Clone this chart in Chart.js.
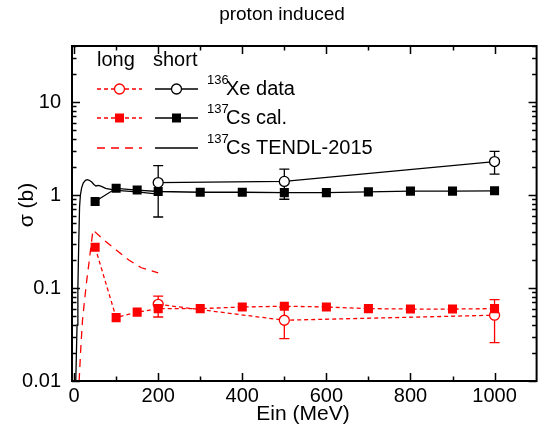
<!DOCTYPE html>
<html>
<head>
<meta charset="utf-8">
<script src="https://cdn.jsdelivr.net/npm/chart.js@4.4.1/dist/chart.umd.min.js"></script>
<style>
  html, body { margin: 0; padding: 0; background: #fff; }
</style>
</head>
<body>
<canvas id="chart" width="543" height="432"></canvas>
<script>
// proton induced - 136Xe data vs 137Cs calc / TENDL-2015
const FONT = "'Liberation Sans', Arial, sans-serif";
const RED = "#ff0000";
const BLACK = "#000000";

// calculated 137Cs, long and short lived
const calEnergy = [50, 100, 150, 200, 300, 400, 500, 600, 700, 800, 900, 1000];
const calShort = [0.85, 1.18, 1.13, 1.09, 1.07, 1.07, 1.06, 1.06, 1.08, 1.10, 1.10, 1.11];
const calLong = [0.274, 0.048, 0.055, 0.060, 0.060, 0.0625, 0.0637, 0.0625, 0.060, 0.0594, 0.0594, 0.060];

// measured 136Xe with error bars
const xeEnergy = [200, 500, 1000];
const xeShort = [1.36, 1.40, 2.29];
const xeShortLow = [0.58, 0.90, 1.68];
const xeShortHigh = [2.07, 1.90, 2.94];
const xeLong = [0.0668, 0.045, 0.051];
const xeLongLow = [0.0488, 0.0285, 0.0258];
const xeLongHigh = [0.0816, 0.062, 0.075];

// TENDL-2015 curves
const tendlShortE = [4, 7, 9, 11, 13, 15, 18, 22, 27, 31, 36, 42, 47, 52, 58, 65, 75, 100, 150, 200];
const tendlShortV = [0.01, 0.04, 0.1, 0.3, 0.75, 1.0, 1.2, 1.35, 1.44, 1.46, 1.44, 1.38, 1.3, 1.25, 1.27, 1.24, 1.18, 1.12, 1.08, 1.02];
const tendlLongE = [12, 16, 20, 25, 30, 35, 40, 45, 70, 100, 130, 160, 200];
const tendlLongV = [0.01, 0.023, 0.045, 0.075, 0.12, 0.18, 0.28, 0.42, 0.33, 0.256, 0.2, 0.165, 0.145];

// axes
const xTicks = [0, 100, 200, 300, 400, 500, 600, 700, 800, 900, 1000];
const xTickLabels = ["0", "", "200", "", "400", "", "600", "", "800", "", "1000"];
const yTicks = [0.01, 0.1, 1, 10];
const yTickLabels = ["0.01", "0.1", "1", "10"];

function pts(xs, ys) {
  return xs.map((x, i) => ({ x, y: ys[i] }));
}

function drawMarker(ctx, type, x, y, color) {
  ctx.save();
  ctx.lineWidth = 1.3;
  ctx.setLineDash([]);
  if (type === "square") {
    ctx.fillStyle = color;
    ctx.fillRect(x - 4.5, y - 4.5, 9, 9);
  } else {
    ctx.beginPath();
    ctx.arc(x, y, 5, 0, Math.PI * 2);
    ctx.fillStyle = "#fff";
    ctx.fill();
    ctx.strokeStyle = color;
    ctx.stroke();
  }
  ctx.restore();
}

function sampleLine(ctx, x1, x2, y, color, dash) {
  ctx.save();
  ctx.strokeStyle = color;
  ctx.lineWidth = 1.3;
  ctx.setLineDash(dash);
  ctx.beginPath();
  ctx.moveTo(x1, y);
  ctx.lineTo(x2, y);
  ctx.stroke();
  ctx.restore();
}

// error bars below the markers
const errorBars = {
  id: "errorBars",
  beforeDatasetsDraw(chart) {
    const { ctx, scales: { x, y } } = chart;
    const sets = [
      { lo: xeShortLow, hi: xeShortHigh, color: BLACK },
      { lo: xeLongLow, hi: xeLongHigh, color: RED }
    ];
    ctx.save();
    ctx.lineWidth = 1.3;
    sets.forEach((s) => {
      ctx.strokeStyle = s.color;
      xeEnergy.forEach((e, i) => {
        const px = x.getPixelForValue(e);
        const y1 = y.getPixelForValue(s.lo[i]);
        const y2 = y.getPixelForValue(s.hi[i]);
        ctx.beginPath();
        ctx.moveTo(px, y1); ctx.lineTo(px, y2);
        ctx.moveTo(px - 5, y1); ctx.lineTo(px + 5, y1);
        ctx.moveTo(px - 5, y2); ctx.lineTo(px + 5, y2);
        ctx.stroke();
      });
    });
    ctx.restore();
  }
};

// frame, inward ticks, titles and legend
const decorations = {
  id: "decorations",
  afterDraw(chart) {
    const { ctx, chartArea: a, scales: { x, y } } = chart;
    ctx.save();
    ctx.strokeStyle = BLACK;
    ctx.lineWidth = 1.5;
    ctx.beginPath();
    xTicks.forEach((v, i) => {
      const px = Math.round(x.getPixelForValue(v)) + 0.5;
      const len = xTickLabels[i] ? 8 : 4.5;
      ctx.moveTo(px, a.bottom); ctx.lineTo(px, a.bottom - len);
      ctx.moveTo(px, a.top); ctx.lineTo(px, a.top + len);
    });
    for (let d = 0.01; d < 100; d *= 10) {
      for (let k = 1; k <= 9; k++) {
        const v = k * d;
        if (v < 0.0099 || v > 40.01) continue;
        const py = Math.round(y.getPixelForValue(v)) + 0.5;
        const len = k === 1 ? 8 : 4.5;
        ctx.moveTo(a.left, py); ctx.lineTo(a.left + len, py);
        ctx.moveTo(a.right, py); ctx.lineTo(a.right - len, py);
      }
    }
    ctx.stroke();
    ctx.lineWidth = 2;
    ctx.strokeRect(a.left, a.top, a.right - a.left, a.bottom - a.top);

    ctx.fillStyle = BLACK;
    ctx.textAlign = "center";
    ctx.textBaseline = "middle";
    ctx.font = "19px " + FONT;
    ctx.fillText("proton induced", 282, 15);
    ctx.font = "21px " + FONT;
    ctx.fillText("Ein (MeV)", 303, 414);
    ctx.save();
    ctx.translate(27, 205);
    ctx.rotate(-Math.PI / 2);
    ctx.fillText("\u03c3 (b)", 0, 0);
    ctx.restore();

    // legend
    ctx.textAlign = "left";
    ctx.font = "20px " + FONT;
    ctx.fillText("long", 97, 60);
    ctx.fillText("short", 153, 60);
    const rows = [
      { y: 89, marker: "circle", dashRed: [4, 3], iso: "136", name: "Xe data" },
      { y: 118, marker: "square", dashRed: [4, 3], iso: "137", name: "Cs cal." },
      { y: 148, marker: null, dashRed: [8, 6], iso: "137", name: "Cs TENDL-2015" }
    ];
    rows.forEach((r) => {
      sampleLine(ctx, 97, 142, r.y, RED, r.dashRed);
      sampleLine(ctx, 155, 198, r.y, BLACK, []);
      if (r.marker) {
        drawMarker(ctx, r.marker, 119.5, r.y, RED);
        drawMarker(ctx, r.marker, 176.5, r.y, BLACK);
      }
      ctx.fillStyle = BLACK;
      ctx.font = "13px " + FONT;
      ctx.fillText(r.iso, 207, r.y - 9);
      ctx.font = "20px " + FONT;
      ctx.fillText(r.name, 226, r.y);
    });
    ctx.restore();
  }
};

const ctx = document.getElementById("chart");

new Chart(ctx, {
  type: "scatter",
  data: {
    datasets: [
      {
        label: "137Cs cal. short",
        data: pts(calEnergy, calShort),
        showLine: true,
        borderColor: BLACK,
        borderWidth: 1.3,
        pointStyle: "rect",
        pointRadius: 6.4,
        pointBackgroundColor: BLACK,
        pointBorderWidth: 0,
        order: 1
      },
      {
        label: "137Cs cal. long",
        data: pts(calEnergy, calLong),
        showLine: true,
        borderColor: RED,
        borderWidth: 1.3,
        borderDash: [4, 3],
        pointStyle: "rect",
        pointRadius: 6.4,
        pointBackgroundColor: RED,
        pointBorderWidth: 0,
        order: 2
      },
      {
        label: "136Xe data short",
        data: pts(xeEnergy, xeShort),
        showLine: true,
        borderColor: BLACK,
        borderWidth: 1.3,
        pointStyle: "circle",
        pointRadius: 5,
        pointBackgroundColor: "#fff",
        pointBorderColor: BLACK,
        pointBorderWidth: 1.3,
        order: 3
      },
      {
        label: "136Xe data long",
        data: pts(xeEnergy, xeLong),
        showLine: true,
        borderColor: RED,
        borderWidth: 1.3,
        borderDash: [4, 3],
        pointStyle: "circle",
        pointRadius: 5,
        pointBackgroundColor: "#fff",
        pointBorderColor: RED,
        pointBorderWidth: 1.3,
        order: 4
      },
      {
        label: "137Cs TENDL-2015 short",
        data: pts(tendlShortE, tendlShortV),
        showLine: true,
        borderColor: BLACK,
        borderWidth: 1.3,
        pointRadius: 0,
        order: 5
      },
      {
        label: "137Cs TENDL-2015 long",
        data: pts(tendlLongE, tendlLongV),
        showLine: true,
        borderColor: RED,
        borderWidth: 1.3,
        borderDash: [8, 6],
        pointRadius: 0,
        order: 6
      }
    ]
  },
  options: {
    responsive: false,
    animation: false,
    events: [],
    layout: { padding: { top: 46, right: 2, left: 0, bottom: 0 } },
    plugins: {
      legend: { display: false },
      tooltip: { enabled: false },
      title: { display: false }
    },
    scales: {
      x: {
        type: "linear",
        min: -5,
        max: 1100,
        afterBuildTicks: (s) => { s.ticks = xTicks.map((v) => ({ value: v })); },
        afterFit: (s) => { s.height = 51; },
        grid: { display: false, drawTicks: false },
        border: { display: false },
        ticks: {
          autoSkip: false,
          maxRotation: 0,
          padding: 3,
          color: BLACK,
          font: { family: FONT, size: 20 },
          callback: (v, i) => xTickLabels[i]
        }
      },
      y: {
        type: "logarithmic",
        min: 0.01,
        max: 40,
        afterBuildTicks: (s) => { s.ticks = yTicks.map((v) => ({ value: v })); },
        afterFit: (s) => { s.width = 72; },
        grid: { display: false, drawTicks: false },
        border: { display: false },
        ticks: {
          autoSkip: false,
          padding: 11,
          color: BLACK,
          font: { family: FONT, size: 20 },
          callback: (v, i) => yTickLabels[i]
        }
      }
    }
  },
  plugins: [errorBars, decorations]
});
</script>
</body>
</html>
